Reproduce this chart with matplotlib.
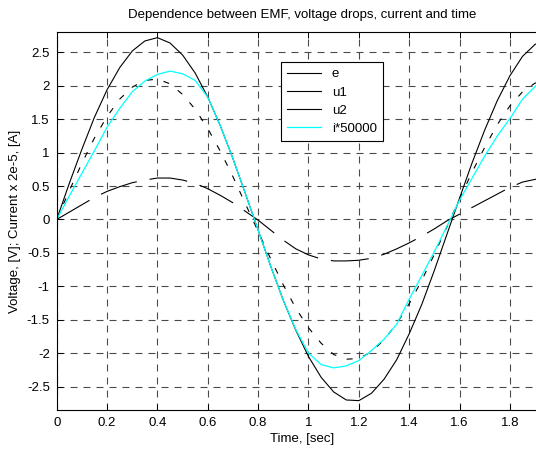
import matplotlib
matplotlib.use("Agg")
import matplotlib.pyplot as plt
from matplotlib.lines import Line2D

plt.rcParams['font.family'] = ['Liberation Sans', 'DejaVu Sans']
plt.rcParams['lines.scale_dashes'] = False

t = [0.00, 0.05, 0.10, 0.15, 0.20, 0.25, 0.30, 0.35, 0.40, 0.45,
     0.50, 0.55, 0.60, 0.65, 0.70, 0.75, 0.80, 0.85, 0.90, 0.95,
     1.00, 1.05, 1.10, 1.15, 1.20, 1.25, 1.30, 1.35, 1.40, 1.45,
     1.50, 1.55, 1.60, 1.65, 1.70, 1.75, 1.80, 1.85, 1.90, 1.95]

e = [0.00, 0.54, 1.05, 1.53, 1.94, 2.27, 2.52, 2.67, 2.72, 2.64,
     2.46, 2.19, 1.83, 1.40, 0.91, 0.38, -0.16, -0.70, -1.21, -1.66,
     -2.05, -2.36, -2.58, -2.70, -2.71, -2.60, -2.39, -2.10, -1.71, -1.27,
     -0.76, -0.22, 0.32, 0.85, 1.34, 1.78, 2.15, 2.44, 2.62, 2.70]

u1 = [0.00, 0.43, 0.84, 1.22, 1.54, 1.80, 1.98, 2.08, 2.10, 2.03,
      1.87, 1.65, 1.36, 1.02, 0.64, 0.23, -0.18, -0.59, -0.98, -1.33,
      -1.62, -1.85, -2.02, -2.09, -2.08, -1.98, -1.80, -1.56, -1.26, -0.91,
      -0.52, -0.11, 0.31, 0.71, 1.08, 1.42, 1.70, 1.91, 2.04, 2.09]

u2 = [0.00, 0.11, 0.22, 0.33, 0.42, 0.49, 0.55, 0.59, 0.62, 0.62,
      0.59, 0.54, 0.46, 0.36, 0.25, 0.12, -0.01, -0.16, -0.31, -0.44,
      -0.53, -0.59, -0.62, -0.62, -0.61, -0.58, -0.52, -0.44, -0.35, -0.25,
      -0.14, -0.02, 0.08, 0.18, 0.28, 0.38, 0.48, 0.56, 0.60, 0.62]

i50k = [0.00, 0.35, 0.69, 1.03, 1.38, 1.66, 1.91, 2.07, 2.17, 2.22,
        2.18, 2.08, 1.83, 1.40, 0.91, 0.38, -0.16, -0.70, -1.21, -1.65,
        -2.00, -2.17, -2.22, -2.19, -2.11, -1.96, -1.79, -1.57, -1.19, -0.84,
        -0.48, -0.10, 0.29, 0.62, 0.95, 1.25, 1.51, 1.80, 1.99, 2.12]

labels = ['e', 'u1', 'u2', 'i*50000']
xticks = [0, 0.2, 0.4, 0.6, 0.8, 1.0, 1.2, 1.4, 1.6, 1.8]
xticklabels = ['0', '0.2', '0.4', '0.6', '0.8', '1', '1.2', '1.4', '1.6', '1.8']
yticks = [-2.5, -2, -1.5, -1, -0.5, 0, 0.5, 1, 1.5, 2, 2.5]
yticklabels = ['-2.5', '-2', '-1.5', '-1', '-0.5', '0', '0.5', '1', '1.5', '2', '2.5']

W, H = 536, 451
fig = plt.figure(figsize=(W / 100, H / 100), dpi=100)
x0, x1 = 56.7, 547.7
y0, y1 = 410.0, 32.3
ax = fig.add_axes([x0 / W, (H - y0) / H, (x1 - x0) / W, (y0 - y1) / H])

px = 0.72  # points per pixel
ax.plot(t, e, color='black', lw=0.8, label=labels[0])
l1, = ax.plot(t, u1, color='black', lw=0.8, label=labels[1])
l1.set_dashes((6 * px, 11 * px))
l2, = ax.plot(t, u2, color='black', lw=0.8, label=labels[2])
l2.set_dashes((38 * px, 13 * px))
ax.plot(t, i50k, color='cyan', lw=0.9, label=labels[3])

ax.set_xlim(0, 1.95)
ax.set_ylim(-2.85, 2.8)
ax.set_xticks(xticks)
ax.set_xticklabels(xticklabels)
ax.set_yticks(yticks)
ax.set_yticklabels(yticklabels)
ax.tick_params(direction='in', length=4, width=0.7, labelsize=9.5,
               top=True, right=False, pad=5, colors='black')
ax.grid(True, color='#4a4a4a', lw=0.8, linestyle=(0, (7 * px, 6 * px)))
for s in ax.spines.values():
    s.set_linewidth(0.8)
    s.set_color('black')
ax.spines['right'].set_visible(False)

ax.set_title('Dependence between EMF, voltage drops, current and time',
             fontsize=9.5, pad=10)
ax.set_xlabel('Time, [sec]', fontsize=9.5, labelpad=3)
ax.set_ylabel('Voltage, [V]; Current x 2e-5, [A]', fontsize=9.5, labelpad=4)

labs = labels
hs = [Line2D([], [], color='black', lw=0.8) for _ in range(3)] + \
     [Line2D([], [], color='cyan', lw=0.9)]
leg = ax.legend(hs, labs, loc='upper left',
                bbox_to_anchor=(281 / W, (H - 62.3) / H),
                bbox_transform=fig.transFigure,
                fontsize=9.5, frameon=True, fancybox=False, shadow=False,
                borderpad=0.45, labelspacing=0.45, handlelength=2.6,
                handletextpad=0.8, borderaxespad=0)
leg.get_frame().set_edgecolor('black')
leg.get_frame().set_linewidth(0.8)
leg.get_frame().set_alpha(1)

fig.savefig('out.png', dpi=100)
